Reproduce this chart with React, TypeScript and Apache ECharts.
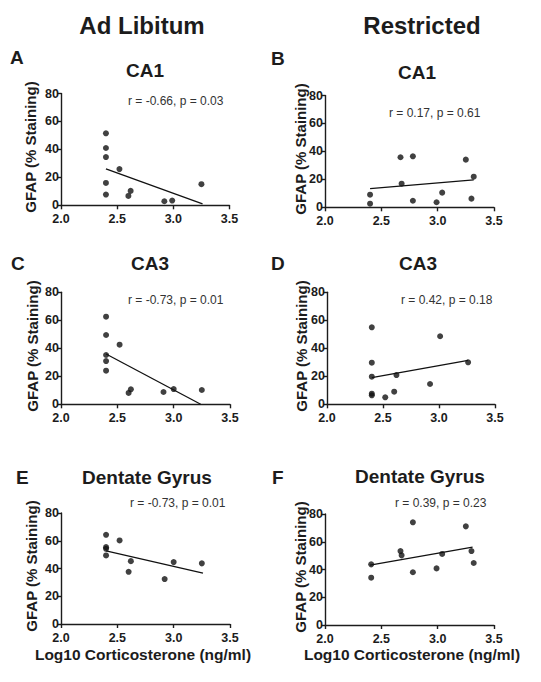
import React, { useEffect, useRef } from "react";
import * as echarts from "echarts";

// Panel A: Ad Libitum, CA1
const aX = [2.4, 2.4, 2.4, 2.4, 2.4, 2.52, 2.6, 2.62, 2.92, 2.99, 3.25];
const aY = [51.5, 41, 34.5, 16, 7.7, 25.9, 6.7, 10.3, 2.9, 3.4, 15.1];
const aFitX = [2.4, 3.26];
const aFitY = [26.1, 1.0];
// Panel B: Restricted, CA1
const bX = [2.4, 2.4, 2.67, 2.68, 2.78, 2.78, 2.99, 3.04, 3.25, 3.3, 3.32];
const bY = [9.0, 2.6, 35.8, 16.9, 36.5, 4.7, 3.6, 10.5, 34.1, 6.2, 21.9];
const bFitX = [2.4, 3.32];
const bFitY = [13.3, 19.6];
// Panel C: Ad Libitum, CA3
const cX = [2.4, 2.4, 2.4, 2.4, 2.4, 2.52, 2.6, 2.62, 2.91, 3.0, 3.25];
const cY = [62.6, 49.5, 35.2, 30.9, 24, 42.6, 8.1, 10.7, 8.8, 10.9, 10.2];
const cFitX = [2.4, 3.24];
const cFitY = [35.9, 0];
// Panel D: Restricted, CA3
const dX = [2.4, 2.4, 2.4, 2.4, 2.4, 2.52, 2.6, 2.62, 2.92, 3.01, 3.26];
const dY = [55, 29.7, 19.7, 7.6, 6.4, 5, 9, 20.9, 14.5, 48.6, 30];
const dFitX = [2.4, 3.26];
const dFitY = [19, 31.4];
// Panel E: Ad Libitum, Dentate Gyrus
const eX = [2.4, 2.4, 2.4, 2.4, 2.52, 2.6, 2.62, 2.92, 3.0, 3.25];
const eY = [64.3, 55.4, 54.2, 49.4, 60.2, 37.6, 45.3, 32.4, 44.6, 43.7];
const eFitX = [2.4, 3.26];
const eFitY = [52.7, 36.7];
// Panel F: Restricted, Dentate Gyrus
const fX = [2.41, 2.41, 2.67, 2.68, 2.78, 2.78, 2.99, 3.04, 3.25, 3.3, 3.32];
const fY = [43.7, 34.1, 53.3, 50.2, 74, 38, 40.8, 51.2, 71.1, 53.3, 44.7];
const fFitX = [2.4, 3.31];
const fFitY = [43.2, 56.2];

const columnTitles = ["Ad Libitum", "Restricted"];
const panelLetters = ["A", "B", "C", "D", "E", "F"];
const regionTitles = ["CA1", "CA1", "CA3", "CA3", "Dentate Gyrus", "Dentate Gyrus"];
const statTexts = [
  "r = -0.66, p = 0.03",
  "r = 0.17, p = 0.61",
  "r = -0.73, p = 0.01",
  "r = 0.42, p = 0.18",
  "r = -0.73, p = 0.01",
  "r = 0.39, p = 0.23",
];
const yAxisTitle = "GFAP (% Staining)";
const xAxisTitle = "Log10 Corticosterone (ng/ml)";
const xMin = 2.0, xMax = 3.5, xStep = 0.5;
const yMin = 0, yMax = 80, yStep = 20;

const FONT = '"Liberation Sans", Arial, Helvetica, sans-serif';
const INK = "#1c1c1c";

const panels = [
  { xs: aX, ys: aY, fx: aFitX, fy: aFitY, grid: { left: 61, top: 93.5, width: 168.5, height: 111.8 }, letter: [10, 57], title: [145, 70], stat: [128, 101], ylab: [30, 147] },
  { xs: bX, ys: bY, fx: bFitX, fy: bFitY, grid: { left: 325, top: 95.5, width: 169, height: 111.8 }, letter: [271, 58], title: [417, 72], stat: [389, 113], ylab: [300, 149] },
  { xs: cX, ys: cY, fx: cFitX, fy: cFitY, grid: { left: 61, top: 292.3, width: 169, height: 112 }, letter: [11, 263], title: [150, 263], stat: [128, 300], ylab: [32, 346] },
  { xs: dX, ys: dY, fx: dFitX, fy: dFitY, grid: { left: 327, top: 292.3, width: 168, height: 112 }, letter: [271, 263], title: [418, 263], stat: [401, 300], ylab: [301, 346] },
  { xs: eX, ys: eY, fx: eFitX, fy: eFitY, grid: { left: 61, top: 513, width: 169, height: 111 }, letter: [16, 477], title: [147, 477], stat: [130, 503], ylab: [31, 566], xlab: [143, 654] },
  { xs: fX, ys: fY, fx: fFitX, fy: fFitY, grid: { left: 325, top: 514, width: 169, height: 111 }, letter: [272, 477], title: [420, 476], stat: [395, 503], ylab: [300, 567], xlab: [412, 654] },
];

export default function App() {
  const ref = useRef<HTMLDivElement>(null);
  useEffect(() => {
    if (!ref.current) return;
    const chart = echarts.init(ref.current, undefined, { renderer: "svg" });
    const grids: any[] = [];
    const xAxes: any[] = [];
    const yAxes: any[] = [];
    const series: any[] = [];
    const graphics: any[] = [];

    const txt = (text: string, x: number, y: number, size: number, weight: string, align: string, fill: string = INK, extra: any = {}) => ({
      type: "text",
      x,
      y,
      ...extra,
      style: {
        text,
        font: `${weight} ${size}px ${FONT}`,
        fill,
        align,
        verticalAlign: "middle",
        textAlign: align,
        textVerticalAlign: "middle",
      },
    });

    graphics.push(txt(columnTitles[0], 142, 25, 24, "bold", "center"));
    graphics.push(txt(columnTitles[1], 422, 25, 24, "bold", "center"));

    panels.forEach((p, i) => {
      grids.push({ ...p.grid, containLabel: false });
      xAxes.push({
        type: "value",
        gridIndex: i,
        min: xMin,
        max: xMax,
        interval: xStep,
        axisLine: { show: true, onZero: false, lineStyle: { color: INK, width: 1.4 } },
        axisTick: { show: true, length: 4, lineStyle: { color: INK, width: 1.4 } },
        splitLine: { show: false },
        axisLabel: {
          margin: 7.5,
          lineHeight: 12,
          color: INK,
          fontFamily: FONT,
          fontWeight: "bold",
          fontSize: 12.5,
          formatter: (v: number) => v.toFixed(1),
        },
      });
      yAxes.push({
        type: "value",
        gridIndex: i,
        min: yMin,
        max: yMax,
        interval: yStep,
        axisLine: { show: true, onZero: false, lineStyle: { color: INK, width: 1.4 } },
        axisTick: { show: true, length: 4, lineStyle: { color: INK, width: 1.4 } },
        splitLine: { show: false },
        axisLabel: {
          margin: 2,
          lineHeight: 11,
          color: INK,
          fontFamily: FONT,
          fontWeight: "bold",
          fontSize: 12.5,
        },
      });
      series.push({
        type: "scatter",
        xAxisIndex: i,
        yAxisIndex: i,
        symbol: "circle",
        symbolSize: 6,
        itemStyle: { color: "#111" },
        data: p.xs.map((x, k) => [x, p.ys[k]]),
        z: 3,
      });
      series.push({
        type: "line",
        xAxisIndex: i,
        yAxisIndex: i,
        symbol: "none",
        lineStyle: { color: "#111", width: 1.3 },
        data: p.fx.map((x, k) => [x, p.fy[k]]),
        z: 2,
      });
      graphics.push(txt(panelLetters[i], p.letter[0], p.letter[1], 19, "bold", "left"));
      graphics.push(txt(regionTitles[i], p.title[0], p.title[1], 19, "bold", "center"));
      graphics.push(txt(statTexts[i], p.stat[0], p.stat[1], 12, "normal", "left", "#333"));
      graphics.push(txt(yAxisTitle, p.ylab[0], p.ylab[1], 15, "bold", "center", INK, { rotation: Math.PI / 2 }));
      if ((p as any).xlab) {
        graphics.push(txt(xAxisTitle, (p as any).xlab[0], (p as any).xlab[1], 15.5, "bold", "center"));
      }
    });

    chart.setOption({
      animation: false,
      backgroundColor: "#ffffff",
      grid: grids,
      xAxis: xAxes,
      yAxis: yAxes,
      series,
      graphic: graphics,
    });
    return () => chart.dispose();
  }, []);
  return (
    <div
      ref={ref}
      style={{ position: "absolute", left: 0, top: 0, width: 541, height: 682, background: "#fff" }}
    />
  );
}
